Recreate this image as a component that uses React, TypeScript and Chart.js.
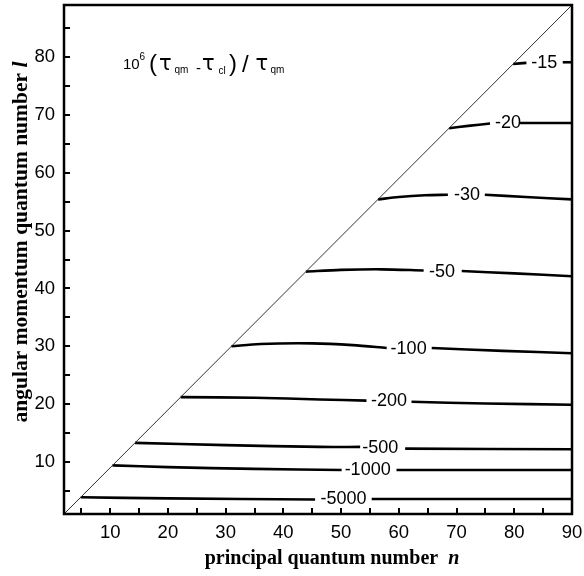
import React, { useEffect, useRef } from 'react';
import { Chart, registerables } from 'chart.js';

Chart.register(...registerables);

// Axis ranges and ticks
const nMin = 2;
const nMax = 90;
const lMin = 1;
const lMax = 89;
const nTicks = [5, 10, 15, 20, 25, 30, 35, 40, 45, 50, 55, 60, 65, 70, 75, 80, 85, 90];
const lTicks = [5, 10, 15, 20, 25, 30, 35, 40, 45, 50, 55, 60, 65, 70, 75, 80, 85];

// Diagonal boundary l = n - 1
const diagonal = [[2, 1], [90, 89]];

// Contour levels (labels) and their label positions (n, l)
const levels = ['-15', '-20', '-30', '-50', '-100', '-200', '-500', '-1000', '-5000'];
const labelN = [85.2, 78.9, 71.8, 67.5, 61.7, 58.3, 56.8, 54.6, 50.4];
const labelL = [79.0, 68.6, 56.1, 42.9, 29.6, 20.5, 12.4, 8.6, 3.6];

// Contour pieces: left of label / right of label, as [n, l]
const c15Left = [[79.8, 78.8], [82.1, 79.0]];
const c15Right = [[88.4, 79.1], [90, 79.1]];
const c20Left = [[68.7, 67.7], [72, 68.1], [75.8, 68.5]];
const c20Right = [[81.0, 68.6], [90, 68.6]];
const c30Left = [[56.4, 55.4], [60, 55.8], [64.5, 56.1], [68.5, 56.2]];
const c30Right = [[74.9, 56.2], [82, 55.8], [90, 55.4]];
const c50Left = [[43.9, 42.9], [50, 43.2], [57, 43.3], [64.3, 43.1]];
const c50Right = [[70.9, 43.0], [80, 42.6], [90, 42.1]];
const c100Left = [[31.0, 30.0], [36, 30.4], [45, 30.5], [52, 30.2], [57.9, 29.7]];
const c100Right = [[65.7, 29.7], [78, 29.2], [90, 28.8]];
const c200Left = [[22.2, 21.2], [35, 21.1], [46.3, 20.8], [54.4, 20.6]];
const c200Right = [[62.2, 20.4], [75, 20.1], [90, 19.9]];
const c500Left = [[14.3, 13.3], [30, 12.9], [46.3, 12.6], [53.3, 12.6]];
const c500Right = [[61.1, 12.3], [90, 12.2]];
const c1000Left = [[10.4, 9.4], [20, 9.1], [35, 8.8], [50.1, 8.6]];
const c1000Right = [[59.6, 8.6], [90, 8.6]];
const c5000Left = [[4.9, 3.9], [20, 3.7], [45.5, 3.5]];
const c5000Right = [[55.3, 3.6], [90, 3.6]];

const contourPieces = [
  c15Left, c15Right, c20Left, c20Right, c30Left, c30Right, c50Left, c50Right,
  c100Left, c100Right, c200Left, c200Right, c500Left, c500Right,
  c1000Left, c1000Right, c5000Left, c5000Right,
];

const toPts = (arr: number[][]) => arr.map(([x, y]) => ({ x, y }));

const overlayPlugin = {
  id: 'overlay',
  afterDatasetsDraw(chart: any) {
    const { ctx, chartArea, scales } = chart;
    const xs = scales.x;
    const ys = scales.y;
    const { left, right, top, bottom } = chartArea;
    ctx.save();
    // frame
    ctx.strokeStyle = '#000';
    ctx.lineWidth = 2.5;
    ctx.strokeRect(left, top, right - left, bottom - top);
    // inward ticks
    ctx.lineWidth = 2;
    ctx.beginPath();
    nTicks.forEach((v) => {
      const px = Math.round(xs.getPixelForValue(v));
      if (px >= right - 1) return;
      ctx.moveTo(px, bottom);
      ctx.lineTo(px, bottom - 6);
    });
    lTicks.forEach((v) => {
      const py = Math.round(ys.getPixelForValue(v));
      ctx.moveTo(left, py);
      ctx.lineTo(left + 6, py);
    });
    ctx.stroke();

    // contour labels
    ctx.fillStyle = '#000';
    ctx.font = '18px "Liberation Sans", Arial, sans-serif';
    ctx.textAlign = 'center';
    ctx.textBaseline = 'middle';
    levels.forEach((t, i) => {
      ctx.fillText(t, xs.getPixelForValue(labelN[i]), ys.getPixelForValue(labelL[i]));
    });

    // annotation 10^6 (tau_qm - tau_cl) / tau_qm
    ctx.textAlign = 'left';
    ctx.textBaseline = 'alphabetic';
    const sans = '"Liberation Sans", Arial, sans-serif';
    const tauFont = '21px "DejaVu Sans", sans-serif';
    const pieces: [string, string, number, number][] = [
      ['10', '15px ' + sans, 123, 68.5],
      ['6', '10px ' + sans, 139.5, 60],
      ['(', '24px ' + sans, 149, 71],
      ['\u03C4', tauFont, 159, 70],
      ['qm', '10px ' + sans, 174.5, 72.5],
      ['-', '15px ' + sans, 196, 73],
      ['\u03C4', tauFont, 202, 70],
      ['cl', '10px ' + sans, 218.5, 74],
      [')', '24px ' + sans, 229, 71],
      ['/', '24px ' + sans, 242, 72],
      ['\u03C4', tauFont, 255.5, 70],
      ['qm', '10px ' + sans, 270.5, 72.5],
    ];
    pieces.forEach(([t, f, x, y]) => {
      ctx.font = f;
      ctx.fillText(t, x, y);
    });

    // axis titles
    const serifB = 'bold 20px "Liberation Serif", "Times New Roman", serif';
    const serifBI = 'italic bold 20px "Liberation Serif", "Times New Roman", serif';
    const xMain = 'principal quantum number  ';
    ctx.font = serifB;
    const w1 = ctx.measureText(xMain).width;
    ctx.font = serifBI;
    const w2 = ctx.measureText('n').width;
    const xc = 332;
    const sx = xc - (w1 + w2) / 2;
    ctx.font = serifB;
    ctx.fillText(xMain, sx, 564);
    ctx.font = serifBI;
    ctx.fillText('n', sx + w1, 564);

    const serifBY = 'bold 21.5px "Liberation Serif", "Times New Roman", serif';
    const serifBIY = 'italic bold 21.5px "Liberation Serif", "Times New Roman", serif';
    const yMain = 'angular momentum quantum number ';
    ctx.font = serifBY;
    const v1 = ctx.measureText(yMain).width;
    ctx.font = serifBIY;
    const v2 = ctx.measureText('l').width;
    ctx.translate(27, 242);
    ctx.rotate(-Math.PI / 2);
    const sy = -(v1 + v2) / 2;
    ctx.font = serifBY;
    ctx.fillText(yMain, sy, 0);
    ctx.font = serifBIY;
    ctx.fillText('l', sy + v1, 0);
    ctx.restore();
  },
};

export default function App() {
  const ref = useRef<HTMLCanvasElement | null>(null);
  useEffect(() => {
    if (!ref.current) return;
    const datasets: any[] = [
      {
        data: toPts(diagonal),
        borderColor: '#333',
        borderWidth: 1,
        pointRadius: 0,
        showLine: true,
      },
      ...contourPieces.map((p) => ({
        data: toPts(p),
        borderColor: '#000',
        borderWidth: 2.6,
        pointRadius: 0,
        showLine: true,
        tension: 0.3,
      })),
    ];
    const tickFont = { family: '"Liberation Sans", Arial, sans-serif', size: 18.5 };
    const chart = new Chart(ref.current, {
      type: 'scatter',
      data: { datasets },
      options: {
        responsive: false,
        animation: false,
        events: [],
        layout: { padding: { left: 0, right: 12, top: 5, bottom: 0 } },
        plugins: { legend: { display: false }, tooltip: { enabled: false } },
        scales: {
          x: {
            type: 'linear',
            min: nMin,
            max: nMax,
            grid: { display: false, drawTicks: false },
            border: { display: false },
            afterBuildTicks: (s: any) => {
              s.ticks = nTicks.map((v) => ({ value: v }));
            },
            afterFit: (s: any) => {
              s.height = 62;
              s.paddingLeft = 0;
              s.paddingRight = 0;
            },
            ticks: {
              autoSkip: false,
              maxRotation: 0,
              padding: 8,
              color: '#000',
              font: tickFont,
              callback: (v: any) => (Number(v) % 10 === 0 ? String(v) : ''),
            },
          },
          y: {
            type: 'linear',
            min: lMin,
            max: lMax,
            grid: { display: false, drawTicks: false },
            border: { display: false },
            afterBuildTicks: (s: any) => {
              s.ticks = lTicks.map((v) => ({ value: v }));
            },
            afterFit: (s: any) => {
              s.width = 64;
              s.paddingTop = 0;
              s.paddingBottom = 0;
            },
            ticks: {
              autoSkip: false,
              padding: 9,
              color: '#000',
              font: tickFont,
              callback: (v: any) => (Number(v) % 10 === 0 ? String(v) : ''),
            },
          },
        },
      } as any,
      plugins: [overlayPlugin],
    });
    return () => chart.destroy();
  }, []);
  return (
    <div style={{ position: 'absolute', left: 0, top: 0, width: 584, height: 576, background: '#fff' }}>
      <canvas ref={ref} width={584} height={576} style={{ width: 584, height: 576 }} />
    </div>
  );
}
